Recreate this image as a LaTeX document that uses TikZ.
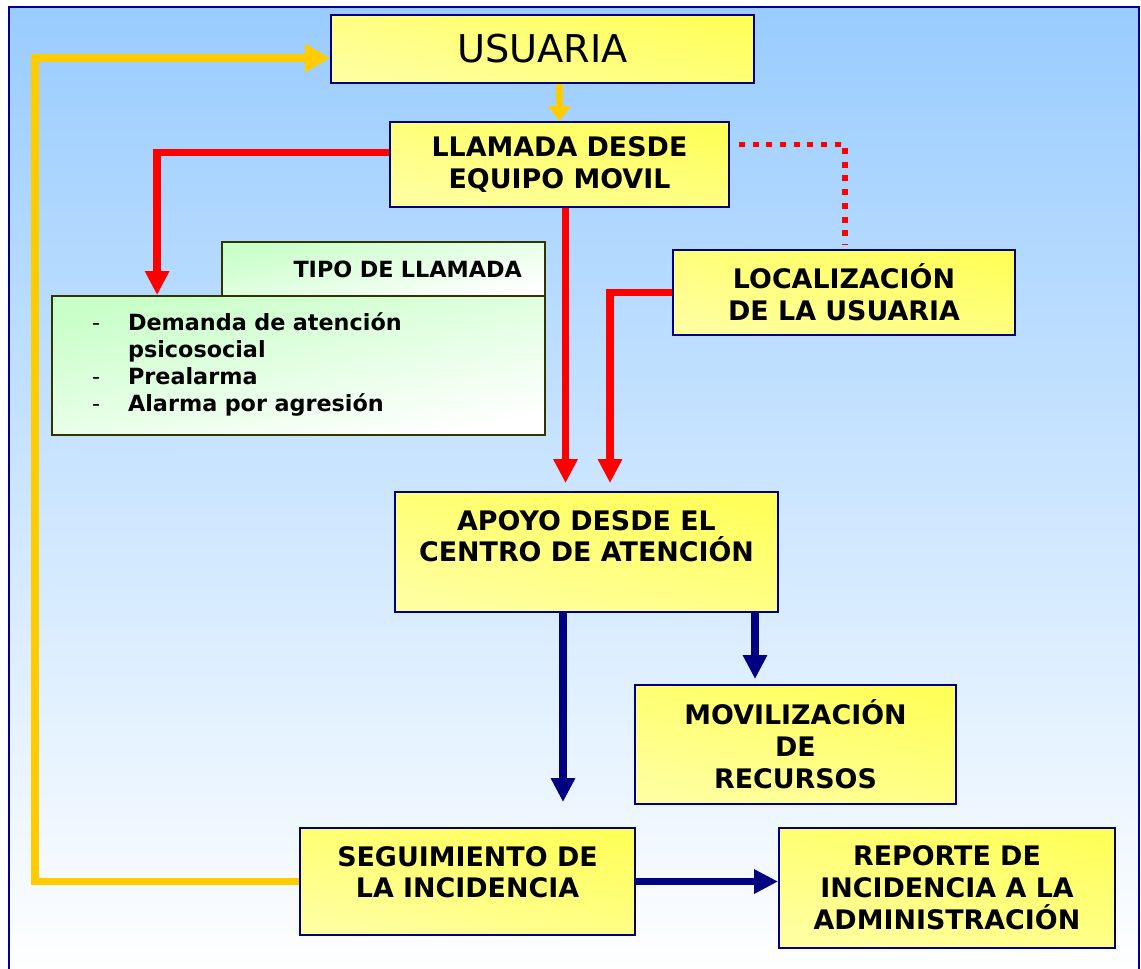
\documentclass[tikz,border=0pt]{standalone}
\usepackage{fontspec}
\setmainfont{DejaVu Sans}
\usetikzlibrary{arrows.meta}
\usetikzlibrary{calc}

\definecolor{navyline}{HTML}{000080}
\definecolor{frameblue}{HTML}{000099}
\definecolor{bgtop}{HTML}{99CCFF}
\definecolor{boxtop}{HTML}{FFFF5A}
\definecolor{boxbot}{HTML}{FFFFA0}
\definecolor{greentop}{HTML}{C8FFC8}
\definecolor{oliveline}{HTML}{333300}
\definecolor{amber}{HTML}{FFCC00}

\tikzset{
        yellowbox/.style={draw=navyline, line width=1.1pt, top color=boxtop, bottom color=boxbot,
            shading angle=-12, align=center, inner sep=0pt,
            font=\fontsize{15.3}{18.2}\selectfont\bfseries},
        greenbox/.style={draw=oliveline, line width=1.1pt, top color=greentop, bottom color=white,
            shading angle=12, inner sep=0pt, font=\fontsize{12.7}{15.4}\selectfont\bfseries},
        amberarrow/.style={draw=amber, line width=4.3pt, -{Triangle[length=0.5cm,width=0.54cm]}},
        redarrow/.style={draw=red, line width=4.3pt, -{Triangle[length=0.48cm,width=0.46cm]}},
        navyarrow/.style={draw=navyline, line width=4.3pt, -{Triangle[length=0.48cm,width=0.46cm]}},
        reddots/.style={draw=red, line width=3.4pt, dash pattern=on 3.4pt off 4.4pt}
}

\begin{document}
\begin{tikzpicture}[x=0.02cm, y=0.02cm]
        \useasboundingbox (0,0) rectangle (1141,-968);
        \clip (0,0) rectangle (1141,-968);
        \fill[white] (0,0) rectangle (1141,-968);
        \shade[top color=bgtop, bottom color=white] (9,-7) rectangle (1139,-975);
        \draw[frameblue, line width=1.2pt] (9,-7) rectangle (1139,-975);

        \node[yellowbox, font=\fontsize{21.8}{26}\selectfont, minimum width=8.46cm, minimum height=1.36cm]
            (usuaria) at (542.5,-49) {USUARIA};
        \node[yellowbox, minimum width=6.78cm, minimum height=1.7cm]
            (llamada) at (559.5,-164.5) {LLAMADA DESDE\\EQUIPO MOVIL};
        \node[yellowbox, minimum width=6.84cm, minimum height=1.7cm]
            (localizacion) at (844,-292.5) {LOCALIZACIÓN\\DE LA USUARIA};
        \node[greenbox, minimum width=6.46cm, minimum height=1.08cm, text width=5.54cm, align=right]
            (tipo) at (383.5,-269) {TIPO DE LLAMADA};
        \node[greenbox, minimum width=9.86cm, minimum height=2.78cm, text width=8.26cm, align=left]
            (lista) at (298.5,-365.5) {%
            \begin{tabular}{@{}p{0.72cm}@{}l@{}}
            {\mdseries -} & Demanda de atención\\
             & psicosocial\\
            {\mdseries -} & Prealarma\\
            {\mdseries -} & Alarma por agresión
            \end{tabular}};
        \node[yellowbox, minimum width=7.66cm, minimum height=2.4cm]
            (apoyo) at (586.5,-552) {APOYO DESDE EL\\CENTRO DE ATENCIÓN\\\mbox{}};
        \node[yellowbox, minimum width=6.42cm, minimum height=2.38cm]
            (movilizacion) at (795.5,-744.5) {MOVILIZACIÓN\\DE\\RECURSOS};
        \node[yellowbox, minimum width=6.7cm, minimum height=2.14cm]
            (seguimiento) at (467.5,-881.5) {SEGUIMIENTO DE\\LA INCIDENCIA\\[-0.26cm]\mbox{}};
        \node[yellowbox, minimum width=6.72cm, minimum height=2.4cm]
            (reporte) at (947,-888) {REPORTE DE\\INCIDENCIA A LA\\ADMINISTRACIÓN};

        \coordinate (retorno) at (35,-877);

        \draw[amberarrow] (seguimiento.west) -- (seguimiento.west -| retorno) |- ($(usuaria.west)+(0,-9)$);
        \draw[amberarrow, -{Triangle[length=0.3cm,width=0.44cm]}] (usuaria.south -| llamada.north) -- (llamada.north);
        \draw[redarrow] ($(llamada.west)+(0,12)$) -| ($(lista.north west)+(106,0)$);
        \draw[redarrow, shorten >=0.16cm] ($(llamada.south)+(6,0)$) -- ($(llamada.south |- apoyo.north)+(6,0)$);
        \draw[redarrow, shorten >=0.16cm] (localizacion.west) -| ($(apoyo.north)+(23.5,0)$);
        \draw[reddots] ($(llamada.east)+(9,20)$) -| ($(localizacion.north)+(1,5)$);
        \draw[navyarrow, shorten >=0.5cm] ($(apoyo.south)+(-23.5,0)$) -- ($(apoyo.south |- seguimiento.north)+(-23.5,0)$);
        \draw[navyarrow, shorten >=0.1cm] ($(apoyo.south)+(168.5,0)$) -- ($(apoyo.south |- movilizacion.north)+(168.5,0)$);
        \draw[navyarrow] (seguimiento.east) -- (seguimiento.east -| reporte.west);
\end{tikzpicture}
\end{document}
